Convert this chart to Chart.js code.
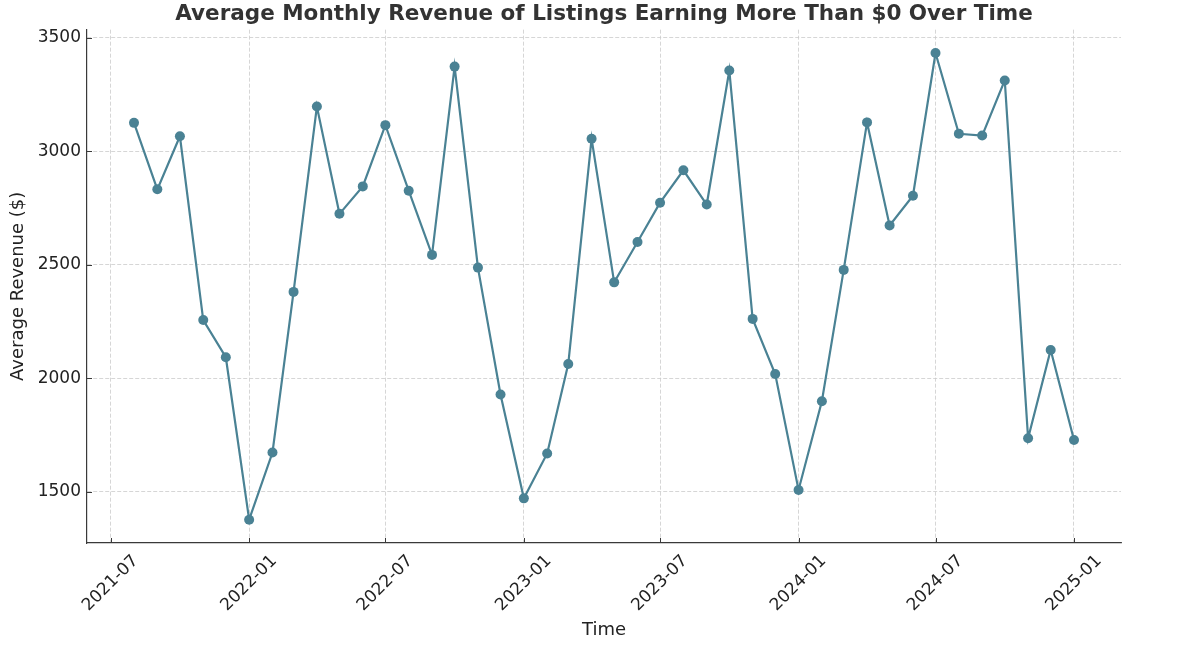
<!DOCTYPE html>
<html>
<head>
<meta charset="utf-8">
<script src="https://cdn.jsdelivr.net/npm/chart.js@4"></script>
<style>
  html, body { margin: 0; padding: 0; background: #fff; }
  #wrap { width: 1194px; height: 666px; }
</style>
</head>
<body>
<div id="wrap"><canvas id="myChart" width="1194" height="666"></canvas></div>
<script>
// dados - receita media mensal
const months = [
  '2021-08', '2021-09', '2021-10', '2021-11', '2021-12',
  '2022-01', '2022-02', '2022-03', '2022-04', '2022-05', '2022-06',
  '2022-07', '2022-08', '2022-09', '2022-10', '2022-11', '2022-12',
  '2023-01', '2023-02', '2023-03', '2023-04', '2023-05', '2023-06',
  '2023-07', '2023-08', '2023-09', '2023-10', '2023-11', '2023-12',
  '2024-01', '2024-02', '2024-03', '2024-04', '2024-05', '2024-06',
  '2024-07', '2024-08', '2024-09', '2024-10', '2024-11', '2024-12',
  '2025-01'
];
const revenue = [
  3125, 2832, 3066, 2256, 2092,
  1376, 1672, 2380, 3197, 2724, 2845,
  3115, 2826, 2543, 3373, 2487, 1928,
  1470, 1668, 2062, 3055, 2422, 2600,
  2773, 2916, 2765, 3356, 2261, 2018,
  1507, 1898, 2477, 3127, 2673, 2804,
  3433, 3077, 3069, 3312, 1735, 2124,
  1727
];
const tickLabels = ['2021-07', '2022-01', '2022-07', '2023-01', '2023-07', '2024-01', '2024-07', '2025-01'];
const yTicks = [1500, 2000, 2500, 3000, 3500];

function toDay(s) {
  const p = s.split('-');
  return Date.UTC(+p[0], +p[1] - 1, 1) / 864e5;
}

const tickDays = tickLabels.map(toDay);
const points = months.map((m, i) => ({ x: toDay(m), y: revenue[i] }));

// margens de 5% como no matplotlib
const xFirst = points[0].x;
const xLast = points[points.length - 1].x;
const xPad = (xLast - xFirst) * 0.05;
const yMin = Math.min(...revenue);
const yMax = Math.max(...revenue);
const yPad = (yMax - yMin) * 0.05;

const spineColor = '#3a3a3a';
const gridColor = '#cccccc';
const font = "'DejaVu Sans', sans-serif";

// tracinhos para dentro
const inwardTicks = {
  id: 'inwardTicks',
  afterDatasetsDraw(chart) {
    const c = chart.ctx;
    const xs = chart.scales.x;
    const ys = chart.scales.y;
    const a = chart.chartArea;
    c.save();
    c.strokeStyle = spineColor;
    c.lineWidth = 1;
    tickDays.forEach(d => {
      const px = Math.round(xs.getPixelForValue(d)) + 0.5;
      c.beginPath();
      c.moveTo(px, a.bottom);
      c.lineTo(px, a.bottom - 5);
      c.stroke();
    });
    yTicks.forEach(v => {
      const py = Math.round(ys.getPixelForValue(v)) + 0.5;
      c.beginPath();
      c.moveTo(a.left, py);
      c.lineTo(a.left + 5, py);
      c.stroke();
    });
    c.restore();
  }
};

const ctx = document.getElementById('myChart');

new Chart(ctx, {
  type: 'line',
  data: {
    datasets: [{
      label: 'Average Revenue',
      data: points,
      borderColor: '#4a8294',
      backgroundColor: '#4a8294',
      borderWidth: 2.2,
      pointRadius: 5,
      pointHoverRadius: 5,
      pointBorderWidth: 0,
      tension: 0
    }]
  },
  options: {
    responsive: false,
    animation: false,
    devicePixelRatio: 1,
    layout: {
      padding: { left: 0, right: 73, top: 0, bottom: 0 }
    },
    plugins: {
      legend: { display: false },
      tooltip: { enabled: false },
      title: {
        display: true,
        fullSize: false,
        text: 'Average Monthly Revenue of Listings Earning More Than $0 Over Time',
        color: '#333333',
        font: { family: font, size: 21.5, weight: 'bold', lineHeight: 1.1 },
        padding: { top: 3, bottom: 3 }
      }
    },
    scales: {
      x: {
        type: 'linear',
        min: xFirst - xPad,
        max: xLast + xPad,
        afterBuildTicks: scale => {
          scale.ticks = tickDays.map(v => ({ value: v }));
        },
        afterFit: scale => { scale.height = 123; },
        grid: {
          color: gridColor,
          lineWidth: 0.8,
          drawTicks: false
        },
        border: { display: true, color: spineColor, width: 1.2, dash: [4, 2] },
        ticks: {
          minRotation: 45,
          maxRotation: 45,
          autoSkip: false,
          labelOffset: 25,
          padding: 8,
          color: '#222222',
          font: { family: font, size: 17 },
          callback: v => {
            const i = tickDays.indexOf(v);
            return i >= 0 ? tickLabels[i] : '';
          }
        },
        title: {
          display: true,
          text: 'Time',
          color: '#222222',
          font: { family: font, size: 18 },
          padding: { top: 0, bottom: 25 }
        }
      },
      y: {
        min: yMin - yPad,
        max: yMax + yPad,
        afterBuildTicks: scale => {
          scale.ticks = yTicks.map(v => ({ value: v }));
        },
        afterFit: scale => { scale.width = 87; },
        grid: {
          color: gridColor,
          lineWidth: 0.8,
          drawTicks: false
        },
        border: { display: true, color: spineColor, width: 1.2, dash: [4, 2] },
        ticks: {
          padding: 6,
          color: '#222222',
          font: { family: font, size: 17 },
          callback: v => String(v)
        },
        title: {
          display: true,
          text: 'Average Revenue ($)',
          color: '#222222',
          font: { family: font, size: 18 },
          padding: { top: 8, bottom: 0 }
        }
      }
    }
  },
  plugins: [inwardTicks]
});
</script>
</body>
</html>
